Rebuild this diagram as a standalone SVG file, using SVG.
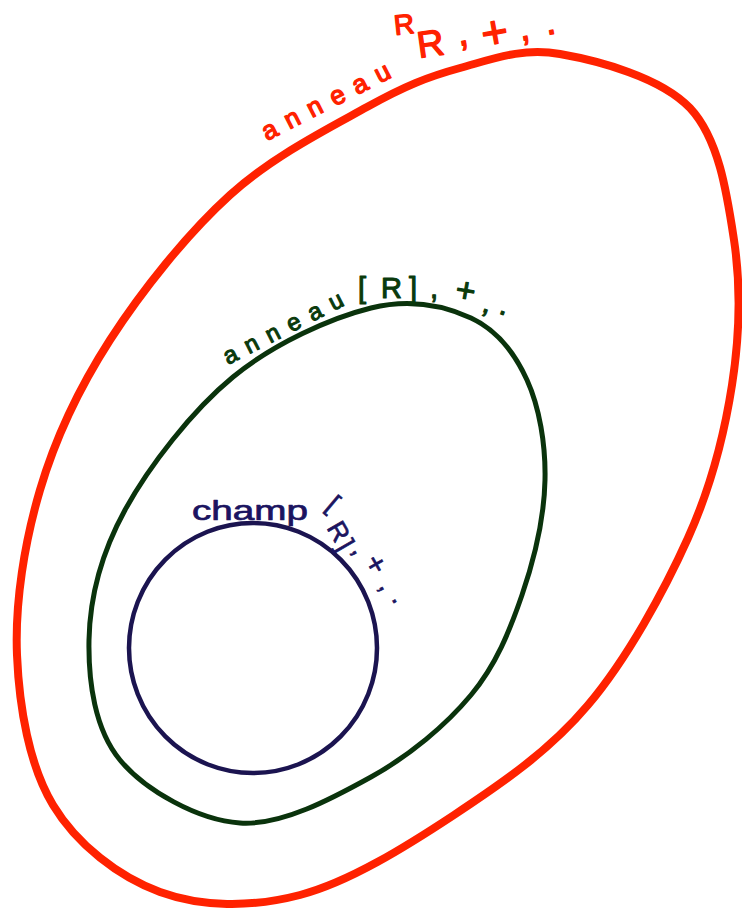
<svg xmlns="http://www.w3.org/2000/svg" width="742" height="910" viewBox="0 0 742 910">
<style>
.ring{fill:none;stroke-linejoin:round;stroke-linecap:round}
.red{stroke:#ff2200;stroke-width:8}
.green{stroke:#0a330c;stroke-width:5}
.blue{stroke:#1b1450;stroke-width:4.5}
.lbl{font-family:"Liberation Sans",Arial,sans-serif;stroke-linejoin:round}
.tr{fill:#ff2200;stroke:#ff2200;stroke-width:1.4}
.tg{fill:#0a3a0c;stroke:#0a3a0c;stroke-width:1.1}
.tb{fill:#1b1460;stroke:#1b1460;stroke-width:0.7}
</style>
<rect width="742" height="910" fill="#ffffff"/>
<g id="anneau-RR">
<path class="ring red" d="M 560,54 C 598.3,60.7 660.5,77 690,108 C 719,139 727,193.8 734,240 C 741,286.2 739.7,335.3 732,385 C 724.3,434.7 712,484.7 688,538 C 664,591.3 627,658.8 588,705 C 549,751.2 502,783.3 454,815 C 406,846.7 349,882.2 300,895 C 251,907.8 201.2,907 160,892 C 118.8,877 76.8,844.5 53,805 C 29.2,765.5 19.2,707.5 17,655 C 14.8,602.5 24.5,542.5 40,490 C 55.5,437.5 78.3,389.2 110,340 C 141.7,290.8 187.2,233.8 230,195 C 272.8,156.2 328.7,128.2 367,107 C 405.3,85.8 427.8,76.8 460,68 C 492.2,59.2 521.7,47.3 560,54 Z"/>
<text class="lbl tr"><tspan font-size="26" x="267 289.6 312.1 334.7 357.2 379.8" y="141 129.5 118 106.6 95.1 83.6" rotate="-27 -27 -27 -27 -27 -27">anneau</tspan><tspan font-size="28" x="395" y="35" rotate="-6">R</tspan><tspan font-size="37" x="419" y="58" rotate="-8">R</tspan><tspan font-size="38" x="459" y="46" rotate="-10">,</tspan><tspan font-size="46" x="484" y="50" rotate="-10">+</tspan><tspan font-size="36" x="521" y="41" rotate="-10">,</tspan><tspan font-size="36" x="547" y="35" rotate="-10">.</tspan></text>
</g>
<g id="anneau-polynomes">
<path class="ring green" d="M 371,308 C 410.7,298.2 445,306 471,318 C 497,330 514.7,353 527,380 C 539.3,407 545.8,444.2 545,480 C 544.2,515.8 534.3,559.2 522,595 C 509.7,630.8 496.2,664.7 471,695 C 445.8,725.3 409.5,755.7 371,777 C 332.5,798.3 281.8,825.8 240,823 C 198.2,820.2 145.2,790.5 120,760 C 94.8,729.5 88.2,681.7 89,640 C 89.8,598.3 101,553.8 125,510 C 149,466.2 192,410.7 233,377 C 274,343.3 331.3,317.8 371,308 Z"/>
<text class="lbl tg"><tspan font-size="24" x="228 249.1 270.2 291.3 312.4 333.5" y="365 354.2 343.4 332.6 321.8 311" rotate="-27 -27 -27 -27 -27 -27">anneau</tspan><tspan font-size="29" x="358 381 409 430" y="298 298 298 298">[R],</tspan><tspan font-size="34" x="454" y="300" rotate="10">+</tspan><tspan font-size="30" x="481" y="311" rotate="20">,</tspan><tspan font-size="30" x="498" y="313" rotate="20">.</tspan></text>
</g>
<g id="champ">
<ellipse class="ring blue" cx="253" cy="648" rx="124" ry="125"/>
<text class="lbl tb"><tspan font-size="28" x="192" y="520" textLength="116" lengthAdjust="spacingAndGlyphs">champ</tspan><tspan font-size="26" x="324.7 326.2 336 351.5" y="507.8 527.8 546.2 550.3" rotate="40 60 60 60">[R],</tspan><tspan font-size="30" x="363" y="561.6" rotate="60">+</tspan><tspan font-size="27" x="378.5" y="586.3" rotate="60">,</tspan><tspan font-size="27" x="391.3" y="598.7" rotate="60">.</tspan></text>
</g>
</svg>
